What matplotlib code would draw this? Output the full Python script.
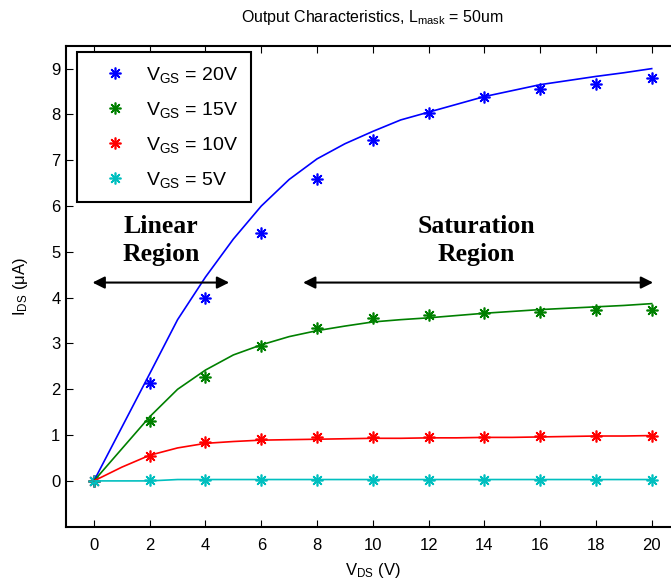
import numpy as np
import matplotlib
matplotlib.use('Agg')
from matplotlib import pyplot as plt

plt.rcParams['font.family'] = ['Liberation Sans', 'DejaVu Sans']
plt.rcParams['mathtext.fontset'] = 'custom'
plt.rcParams['mathtext.rm'] = 'Liberation Sans'
plt.rcParams['mathtext.it'] = 'Liberation Sans:italic'

# measured points (markers)
vds_meas = [0, 2, 4, 6, 8, 10, 12, 14, 16, 18, 20]
ids_20 = [0, 2.14, 3.99, 5.42, 6.58, 7.44, 8.03, 8.38, 8.55, 8.66, 8.79]
ids_15 = [0, 1.30, 2.27, 2.95, 3.33, 3.55, 3.63, 3.67, 3.68, 3.72, 3.74]
ids_10 = [0, 0.54, 0.84, 0.92, 0.95, 0.95, 0.95, 0.96, 0.98, 0.99, 0.99]
ids_5 = [0, 0.02, 0.03, 0.03, 0.03, 0.03, 0.03, 0.03, 0.03, 0.03, 0.03]

# model curves (lines)
vds_model = list(range(0, 21))
fit_20 = [0, 1.17, 2.34, 3.52, 4.45, 5.28, 6.0, 6.58, 7.03, 7.36, 7.63,
          7.88, 8.05, 8.22, 8.39, 8.52, 8.65, 8.74, 8.83, 8.91, 9.0]
fit_15 = [0, 0.70, 1.40, 2.0, 2.42, 2.75, 2.97, 3.15, 3.28, 3.38, 3.47,
          3.52, 3.56, 3.61, 3.66, 3.70, 3.74, 3.77, 3.80, 3.83, 3.87]
fit_10 = [0, 0.30, 0.56, 0.72, 0.82, 0.86, 0.89, 0.90, 0.91, 0.92, 0.93,
          0.93, 0.94, 0.94, 0.95, 0.95, 0.96, 0.97, 0.98, 0.98, 0.99]
fit_5 = [0, 0, 0, 0.03, 0.03, 0.03, 0.03, 0.03, 0.03, 0.03, 0.03,
         0.03, 0.03, 0.03, 0.03, 0.03, 0.03, 0.03, 0.03, 0.03, 0.03]

labels = ['V$_{\\mathrm{GS}}$ = 20V', 'V$_{\\mathrm{GS}}$ = 15V',
          'V$_{\\mathrm{GS}}$ = 10V', 'V$_{\\mathrm{GS}}$ = 5V']
colors = ['#0000ff', '#008000', '#ff0000', '#00bfbf']

fig = plt.figure(figsize=(6.71, 5.87), dpi=100)
ax = fig.add_axes([0.0984, 0.1027, 0.9144, 0.8194])

meas = [ids_20, ids_15, ids_10, ids_5]
fits = [fit_20, fit_15, fit_10, fit_5]
for i in range(4):
    ax.plot(vds_meas, meas[i], linestyle='none', marker=(8, 2, 0), markersize=8.5,
            markeredgewidth=1.2, color=colors[i], label=labels[i])
for i in range(4):
    ax.plot(vds_model, fits[i], color=colors[i], linewidth=1.2)

ax.set_xlim(-1, 21)
ax.set_ylim(-1, 9.5)
ax.set_xticks(range(0, 21, 2))
ax.set_yticks(range(0, 10))
ax.tick_params(direction='in', top=True, right=True, labelsize=12, length=5)
ax.tick_params(axis='x', pad=8)
ax.tick_params(axis='y', pad=4)
for s in ax.spines.values():
    s.set_linewidth(1.5)

# region annotations
ax.annotate('', xy=(-0.05, 4.33), xytext=(4.85, 4.33),
            arrowprops=dict(arrowstyle='<|-|>', color='black', lw=1.5,
                            mutation_scale=18, shrinkA=0, shrinkB=0))
ax.annotate('', xy=(7.5, 4.33), xytext=(20.05, 4.33),
            arrowprops=dict(arrowstyle='<|-|>', color='black', lw=1.5,
                            mutation_scale=18, shrinkA=0, shrinkB=0))
ax.text(2.4, 5.25, 'Linear\nRegion', ha='center', va='center', fontsize=18.5,
        fontweight='bold', family='Liberation Serif', linespacing=1.27)
ax.text(13.72, 5.25, 'Saturation\nRegion', ha='center', va='center', fontsize=18.5,
        fontweight='bold', family='Liberation Serif', linespacing=1.27)

leg = ax.legend(loc='upper left', bbox_to_anchor=(0.018, 0.986), borderaxespad=0,
                fontsize=14, fancybox=False, handlelength=2.7, handletextpad=0.25,
                labelspacing=0.78, borderpad=0.62, framealpha=1)
leg.get_frame().set_edgecolor('black')
leg.get_frame().set_linewidth(1.5)

ax.set_title('Output Characteristics, L$_{\\mathrm{mask}}$ = 50um', fontsize=11.5, pad=17)
ax.set_xlabel('V$_{\\mathrm{DS}}$ (V)', fontsize=12, labelpad=6)
ax.set_ylabel('I$_{\\mathrm{DS}}$ (\u03bcA)', fontsize=12, labelpad=15)

fig.savefig('out.png', dpi=100)
